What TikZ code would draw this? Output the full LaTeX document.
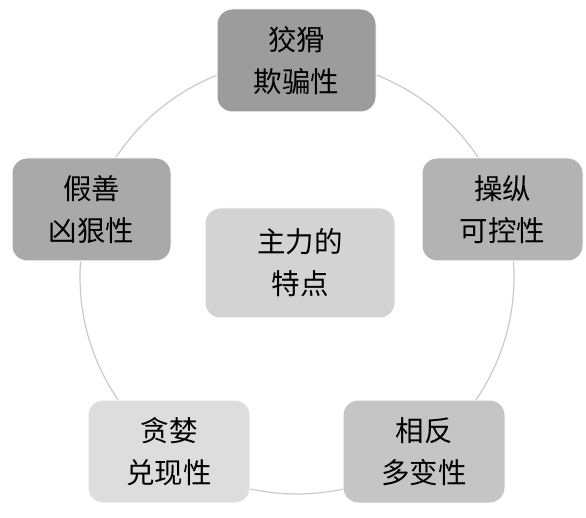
\documentclass[tikz,border=0pt]{standalone}
\usepackage{fontspec}
\setmainfont{Noto Sans CJK SC}
\usetikzlibrary{positioning}
\definecolor{cA}{HTML}{9C9C9C}
\definecolor{cB}{HTML}{A9A9A9}
\definecolor{cC}{HTML}{B3B3B3}
\definecolor{cD}{HTML}{C5C5C5}
\definecolor{cE}{HTML}{D3D3D3}
\definecolor{cF}{HTML}{DDDDDD}
\definecolor{ring}{HTML}{CACACA}
\begin{document}
\begin{tikzpicture}[x=1pt,y=-1pt,
  card/.style={rounded corners=15pt, draw=white, line width=1pt, inner sep=0pt,
    align=center, font=\fontsize{28.5}{42}\selectfont, text=black},
]
\useasboundingbox (0,0) rectangle (586,518);
\fill[white] (0,0) rectangle (586,518);
\coordinate (c) at (297,277);
\draw[ring, line width=1.2pt] (c) circle[radius=217];
\node[card, fill=cA, minimum width=159pt, minimum height=103pt] (t) at (296.5,60.5) {狡猾\\欺骗性};
\node[card, fill=cB, minimum width=159pt, minimum height=103pt] (l) at (91.5,209.5) {假善\\凶狠性};
\node[card, fill=cC, minimum width=161pt, minimum height=103pt] (r) at (502.5,209.5) {操纵\\可控性};
\node[card, fill=cF, minimum width=162pt, minimum height=103pt] (bl) at (169,451.5) {贪婪\\兑现性};
\node[card, fill=cD, minimum width=162pt, minimum height=103pt] (br) at (424,451.5) {相反\\多变性};
\node[card, fill=cE, minimum width=190pt, minimum height=110pt] (m) at (300,263) {主力的\\特点};
\end{tikzpicture}
\end{document}
